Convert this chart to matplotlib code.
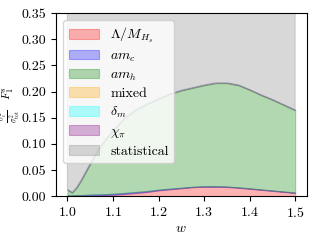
import matplotlib
matplotlib.use("Agg")
import matplotlib.pyplot as plt
import numpy as np

plt.rcParams['font.family'] = 'serif'
plt.rcParams['font.serif'] = ['cmr10']
plt.rcParams['mathtext.fontset'] = 'cm'
plt.rcParams['axes.formatter.use_mathtext'] = True
plt.rcParams['font.size'] = 10

# recoil w and the fraction of the variance from each error source
w = [1.0, 1.005, 1.01, 1.02, 1.03, 1.04, 1.05, 1.06, 1.07, 1.08, 1.1, 1.125, 1.15, 1.175,
     1.2, 1.225, 1.25, 1.275, 1.3, 1.325, 1.35, 1.375, 1.4, 1.425, 1.45, 1.475, 1.5]
lam_m = [0.0003, 0.0003, 0.0004, 0.0005, 0.0006, 0.0008, 0.001, 0.0012, 0.0014, 0.0017, 0.0025,
         0.004, 0.006, 0.008, 0.011, 0.013, 0.015, 0.017, 0.018, 0.018, 0.0175, 0.016, 0.014,
         0.012, 0.010, 0.008, 0.006]
am_c = [0.001, 0.001, 0.001, 0.0012, 0.0014, 0.0016, 0.0018, 0.002, 0.002, 0.002, 0.002, 0.002,
        0.0018, 0.0016, 0.0014, 0.0012, 0.001, 0.0009, 0.0008, 0.0008, 0.0008, 0.0008, 0.0008,
        0.0008, 0.0008, 0.0008, 0.0008]
am_h = [0.0106, 0.0078, 0.0049, 0.0144, 0.0281, 0.0437, 0.0593, 0.0749, 0.0887, 0.1004, 0.1206,
        0.1431, 0.1573, 0.1665, 0.1737, 0.1809, 0.1861, 0.1892, 0.1933, 0.1973, 0.1978, 0.1953,
        0.1883, 0.1803, 0.1733, 0.1653, 0.1573]
mixed = [0.0003] * len(w)
delta_m = [0.0003] * len(w)
chi_pi = [0.0003] * len(w)

labels = [r'$\Lambda/M_{H_s}$', r'$am_c$', r'$am_h$', 'mixed', r'$\delta_m$', r'$\chi_\pi$',
          'statistical']
colors = ['red', 'blue', 'green', 'orange', 'cyan', 'purple', 'gray']
yticks = [0.0, 0.05, 0.10, 0.15, 0.20, 0.25, 0.30, 0.35]

parts = np.array([lam_m, am_c, am_h, mixed, delta_m, chi_pi])
stat = 1.0 - parts.sum(axis=0)

fig, ax = plt.subplots(figsize=(3.2, 2.4), dpi=100)
polys = ax.stackplot(w, *parts, stat, labels=labels, colors=colors, alpha=0.3)
for p, c in zip(polys, colors):
    p.set_edgecolor(c)
    p.set_linewidth(0.8)
ax.set_ylim(0, 0.35)
ax.set_yticks(yticks)
ax.set_yticklabels(['%.2f' % t for t in yticks])
ax.set_xticks([1.0, 1.1, 1.2, 1.3, 1.4, 1.5])
ax.set_xlabel(r'$w$', labelpad=2)
ax.set_ylabel(r'$\genfrac{}{}{0.5}{1}{\sigma_i^2}{\sigma_{\rm tot}^2}\quad F_1^s$', fontsize=8)
ax.yaxis.set_label_coords(-0.132, 0.5)
ax.legend(loc='upper left', labelspacing=0.35, handlelength=2.2)
fig.subplots_adjust(left=0.175, right=0.958, top=0.945, bottom=0.183)
fig.savefig('out.png')
